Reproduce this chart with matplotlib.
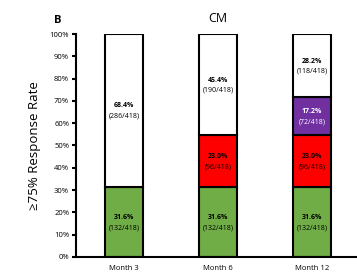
import matplotlib
matplotlib.use('Agg')
import matplotlib.pyplot as plt

# data (percent of 418 patients)
months = ['Month 3', 'Month 6', 'Month 12']
green = [31.6, 31.6, 31.6]
red = [0, 23.0, 23.0]
purple = [0, 0, 17.2]
white = [68.4, 45.4, 28.2]
green_n = [132, 132, 132]
red_n = [0, 96, 96]
purple_n = [0, 0, 72]
white_n = [286, 190, 118]
total = 418

plt.rcParams['font.family'] = ['Open Sans', 'DejaVu Sans']

fig = plt.figure(figsize=(3.57, 2.79), dpi=100)
ax = fig.add_axes([0.213, 0.079, 0.787, 0.799])

x = range(len(months))
w = 0.4
segments = [(green, green_n, '#70AD47', 'black'),
            (red, red_n, '#FF0000', 'black'),
            (purple, purple_n, '#7030A0', 'white'),
            (white, white_n, 'white', 'black')]

bottoms = [0, 0, 0]
for vals, counts, col, tcol in segments:
    for i in x:
        v = vals[i]
        if v <= 0:
            continue
        ax.bar(i, v, w, bottom=bottoms[i], color=col, edgecolor='black',
               linewidth=1.5, zorder=2)
        mid = bottoms[i] + v / 2
        ax.text(i, mid + 2.0, f'{v:.1f}%', ha='center', va='center',
                fontsize=5, fontweight='bold', color=tcol, zorder=3)
        ax.text(i, mid - 2.6, f'({counts[i]}/{total})', ha='center', va='center',
                fontsize=5, color=tcol, zorder=3)
        bottoms[i] += v

ax.set_xlim(-0.51, 2.48)
ax.set_ylim(0, 100)
ax.set_yticks(range(0, 101, 10))
ax.set_yticklabels([f'{t}%' for t in range(0, 101, 10)], fontsize=5.5)
ax.set_xticks(list(x))
ax.set_xticklabels(months, fontsize=5.5)
ax.tick_params(axis='x', length=0, pad=6)
ax.tick_params(axis='y', length=3, width=1.5, pad=2)
for s in ['top', 'right']:
    ax.spines[s].set_visible(False)
for s in ['left', 'bottom']:
    ax.spines[s].set_linewidth(1.5)

ax.set_ylabel('≥75% Response Rate', fontsize=9.5, labelpad=6)
fig.text(0.61, 0.935, 'CM', ha='center', va='center', fontsize=9)
fig.text(0.163, 0.928, 'B', ha='center', va='center', fontsize=8, fontweight='bold')

fig.savefig('out.png', dpi=100)
